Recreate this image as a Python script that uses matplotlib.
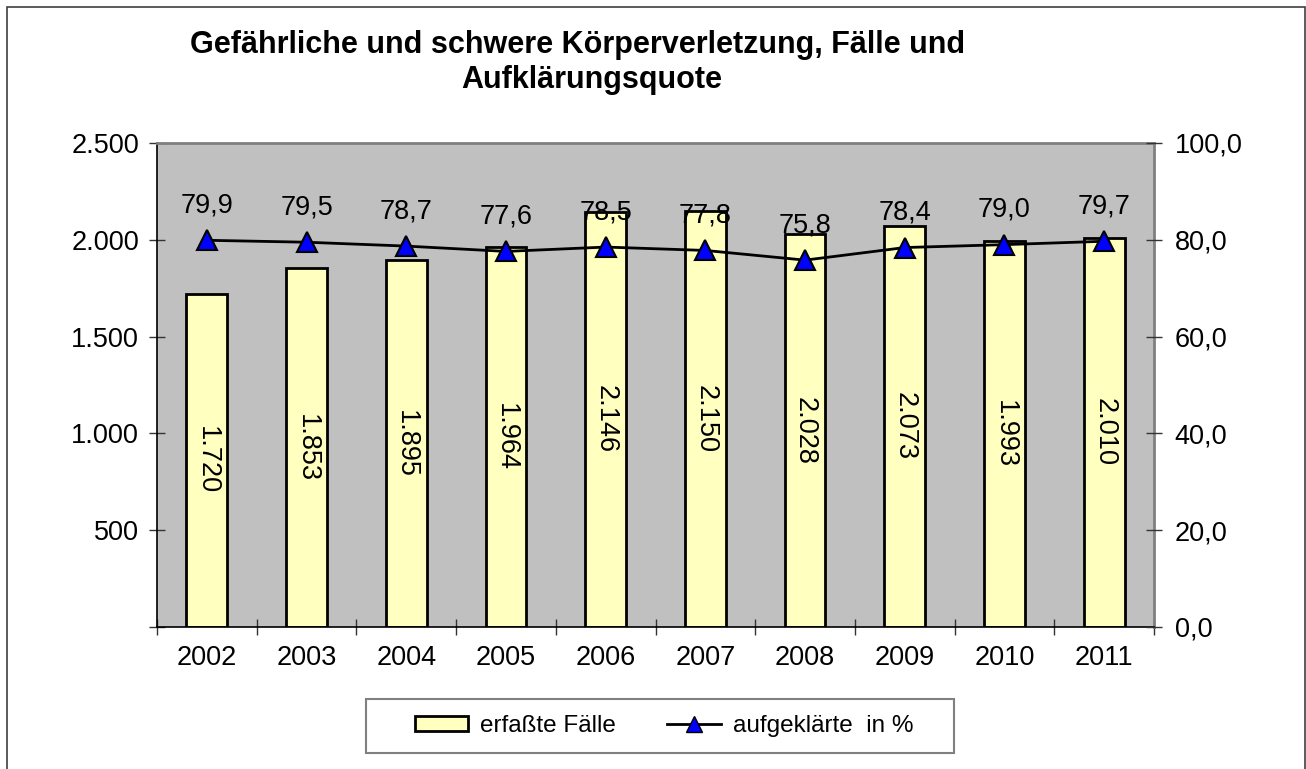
import matplotlib
matplotlib.use("Agg")
import matplotlib.pyplot as plt
from matplotlib.patches import Rectangle
from matplotlib.lines import Line2D
from matplotlib.patches import Patch
import numpy as np

plt.rcParams['font.family'] = ['Liberation Sans', 'DejaVu Sans']

years = ["2002", "2003", "2004", "2005", "2006", "2007", "2008", "2009", "2010", "2011"]
faelle = [1720, 1853, 1895, 1964, 2146, 2150, 2028, 2073, 1993, 2010]
quote = [79.9, 79.5, 78.7, 77.6, 78.5, 77.8, 75.8, 78.4, 79.0, 79.7]
left_ticks = [0, 500, 1000, 1500, 2000, 2500]
right_ticks = [0, 20, 40, 60, 80, 100]
title_lines = ["Gefährliche und schwere Körperverletzung, Fälle und", "Aufklärungsquote"]
legend_labels = ["erfaßte Fälle", "aufgeklärte  in %"]

def de_int(v):
    return f"{v:,}".replace(",", ".")

def de_float(v):
    return f"{v:.1f}".replace(".", ",")

FS = 19.5
W, H = 1306, 769
fig = plt.figure(figsize=(W / 100, H / 100), dpi=100)
fig.patch.set_facecolor("white")

# figure border
fig.patches.append(Rectangle((7 / W, -0.01), (1305 - 7) / W, (769 - 7) / H + 0.01,
                             transform=fig.transFigure, fill=False,
                             edgecolor="#404040", lw=1.2))

ax = fig.add_axes([157 / W, 1 - 627 / H, (1154 - 157) / W, (627 - 143) / H])
ax.set_facecolor("#c0c0c0")
x = np.arange(len(years))

ax.bar(x, faelle, width=0.41, color="#ffffc0", edgecolor="black", lw=2, zorder=2)
for xi, v in zip(x, faelle):
    ax.text(xi, v / 2, de_int(v), rotation=270, ha="center", va="center",
            fontsize=FS, zorder=5)

ax.set_xlim(-0.5, len(years) - 0.5)
ax.set_ylim(0, 2500)
ax.set_yticks(left_ticks)
ax.set_yticklabels(["" if t == 0 else de_int(t) for t in left_ticks])
ax.set_xticks(np.arange(len(years) + 1) - 0.5)
ax.set_xticklabels([])
ax.set_xticks(x, minor=True)
ax.set_xticklabels(years, minor=True)
ax.tick_params(axis="x", which="major", direction="inout", length=12, width=1, color="#333333")
ax.tick_params(axis="x", which="minor", length=0, pad=13, labelsize=FS)
ax.tick_params(axis="y", direction="inout", length=12, width=1, color="#333333", pad=7, labelsize=FS)

for s in ["left", "bottom"]:
    ax.spines[s].set_color("black")
    ax.spines[s].set_linewidth(1.2)
for s in ["top", "right"]:
    ax.spines[s].set_color("#808080")
    ax.spines[s].set_linewidth(2)

ax2 = ax.twinx()
ax2.set_ylim(0, 100)
ax2.set_yticks(right_ticks)
ax2.set_yticklabels([de_float(t) for t in right_ticks])
ax2.tick_params(axis="y", direction="inout", length=12, width=1, color="#333333", pad=9, labelsize=FS)
for s in ax2.spines.values():
    s.set_visible(False)
ax2.plot(x, quote, color="black", lw=2, marker="^", markersize=15,
         markerfacecolor="#0000ff", markeredgecolor="black", markeredgewidth=1.5, zorder=4)
for xi, v in zip(x, quote):
    ax2.annotate(de_float(v), (xi, v), xytext=(0, 25), textcoords="offset points",
                 ha="center", va="center", fontsize=FS, zorder=6)

fig.text(578 / W, 1 - 45 / H, title_lines[0], ha="center", va="center", fontsize=22,
         fontweight="bold")
fig.text(592 / W, 1 - 80 / H, title_lines[1], ha="center", va="center", fontsize=22,
         fontweight="bold")

# legend frame
fig.patches.append(Rectangle((366 / W, 1 - 753 / H), (954 - 366) / W, (753 - 699) / H,
                             transform=fig.transFigure, facecolor="white",
                             edgecolor="#808080", lw=1.5))
handles = [Patch(facecolor="#ffffc0", edgecolor="black", lw=2),
           Line2D([], [], color="black", lw=2, marker="^", markersize=12,
                  markerfacecolor="#0000ff", markeredgecolor="black")]
leg = fig.legend(handles, legend_labels, ncol=2,
                 loc="center", bbox_to_anchor=(664 / W, 1 - 726 / H),
                 fontsize=17.5, frameon=False, columnspacing=2.1,
                 handlelength=2.2, handleheight=0.55, handletextpad=0.5,
                 borderpad=0, borderaxespad=0)

fig.savefig("out.png", dpi=100)
